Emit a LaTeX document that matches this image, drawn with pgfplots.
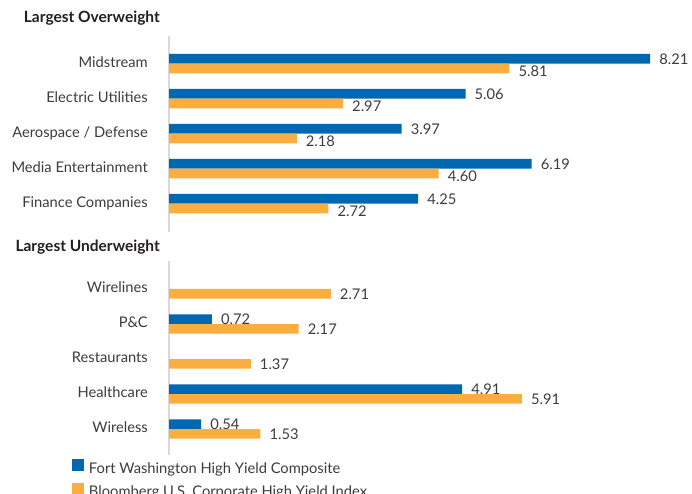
\documentclass[border=0pt]{standalone}
\usepackage{fontspec}
\setmainfont{Lato}
\usepackage{pgfplots}
\pgfplotsset{compat=1.18}
\definecolor{fwblue}{HTML}{0067B1}
\definecolor{bborange}{HTML}{FBAD40}
\definecolor{txt}{HTML}{3C3C3C}
\definecolor{hd}{HTML}{231F20}
\definecolor{axgray}{HTML}{D9D9D9}
\newcommand{\lf}{\fontsize{14.7}{16}\selectfont}
\pgfplotsset{
  mybars/.style={
    xbar, bar width=9.7pt,
    y dir=reverse, y=35pt,
    xmin=0,
    axis x line=none,
    axis y line*=left,
    axis line style={draw=axgray, line width=1.3pt},
    ytick={0,1,2,3,4},
    ytick style={draw=none},
    major tick length=0pt,
    yticklabel style={font=\lf, text=txt, anchor=base east, inner sep=0pt, xshift=-21pt, yshift=-3.5pt},
    clip=false,
    /pgf/number format/assume math mode=true,
    nodes near coords={\pgfmathprintnumber[fixed,fixed zerofill,precision=2]{\pgfplotspointmeta}},
    nodes near coords style={font=\lf, text=txt, anchor=west, inner sep=0pt, xshift=9pt},
  },
  bluebar/.style={fill=fwblue, draw=none, bar shift=4.85pt},
  orangebar/.style={fill=bborange, draw=none, bar shift=-4.85pt},
}
\begin{document}
\begin{tikzpicture}
\useasboundingbox (0,0) rectangle (692pt,494pt);
\node[anchor=base east, font=\fontsize{15.5}{17}\selectfont\bfseries, text=hd, inner sep=0pt] at (160pt,471pt) {Largest Overweight};
\node[anchor=base east, font=\fontsize{15.5}{17}\selectfont\bfseries, text=hd, inner sep=0pt] at (160pt,242pt) {Largest Underweight};
\begin{axis}[mybars,
  at={(169pt,458pt)}, anchor=north west,
  x=58.6pt, xmax=8.92, ymin=-0.79, ymax=4.81,
  yticklabels={Midstream, Electric Utilities, Aerospace / Defense, Media Entertainment, Finance Companies},
]
\addplot[bluebar] coordinates {(8.21,0) (5.06,1) (3.97,2) (6.19,3) (4.25,4)};
\addplot[orangebar, nodes near coords style={yshift=-3pt}] coordinates {(5.81,0) (2.97,1) (2.18,2) (4.60,3) (2.72,4)};
\end{axis}
\begin{axis}[mybars,
  at={(169pt,233pt)}, anchor=north west,
  x=59.7pt, xmax=8.76, ymin=-0.8, ymax=4.74,
  yticklabels={Wirelines, P\&C, Restaurants, Healthcare, Wireless},
  legend cell align=left,
  legend style={at={(axis description cs:-0.1855,-0.023)}, anchor=north west,
    draw=none, fill=none, inner sep=0pt, outer sep=0pt, row sep=6.5pt,
    font=\lf, text=txt,
    nodes={inner sep=0pt, text height=10pt, text depth=3pt},
    /tikz/every odd column/.append style={column sep=5pt}},
  legend image code/.code={\fill[#1] (0pt,-1.5pt) rectangle (12pt,10.5pt);},
]
\addplot[bluebar] coordinates {(0.72,1) (4.91,3) (0.54,4)};
\addplot[orangebar] coordinates {(2.71,0) (2.17,1) (1.37,2) (5.91,3) (1.53,4)};
\legend{Fort Washington High Yield Composite, Bloomberg U.S. Corporate High Yield Index}
\end{axis}
\end{tikzpicture}
\end{document}
